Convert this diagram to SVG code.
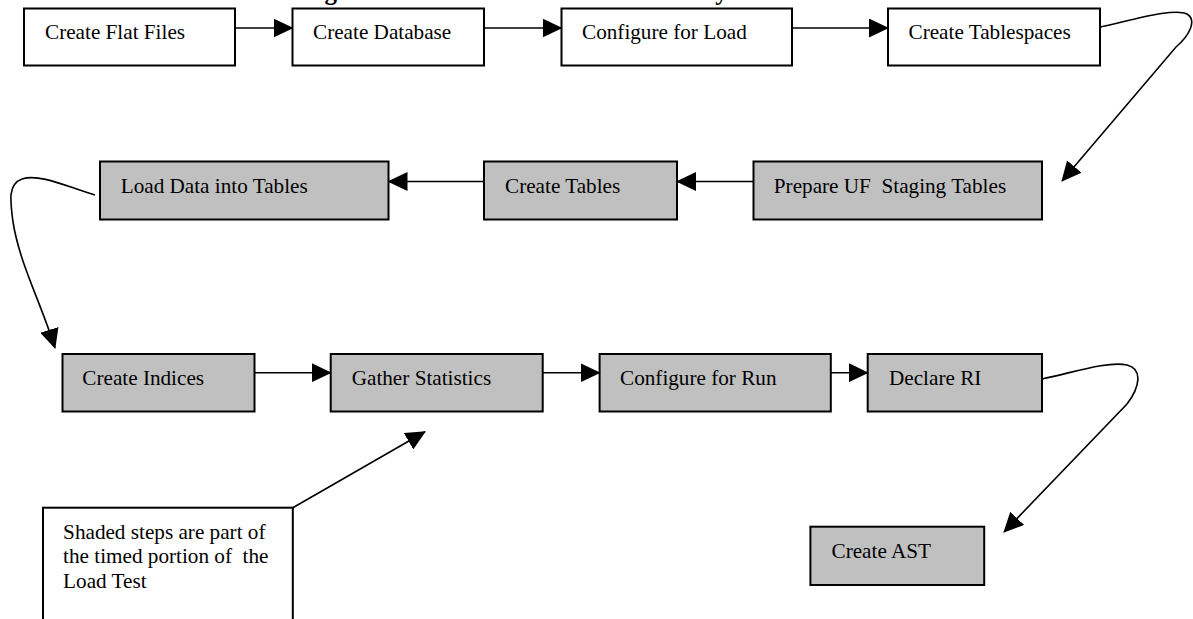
<svg xmlns="http://www.w3.org/2000/svg" width="1193" height="619" viewBox="0 0 1193 619">
<style>
.box{fill:#ffffff;stroke:#000;stroke-width:2}
.sh{fill:#c0c0c0;stroke:#000;stroke-width:2}
.lbl{font-family:"Liberation Serif","Times New Roman",serif;font-size:21.2px;fill:#000;white-space:pre}
.title{font-family:"Liberation Serif","Times New Roman",serif;font-size:25px;font-weight:bold;fill:#000}
.con{fill:none;stroke:#000;stroke-width:1.6;marker-end:url(#ah)}
</style>
<defs>
<marker id="ah" viewBox="0 0 20 19" refX="19" refY="9.5" markerWidth="20" markerHeight="19" markerUnits="userSpaceOnUse" orient="auto">
<path d="M0,0 L20,9.5 L0,19 z" fill="#000"/>
</marker>
</defs>
<rect width="1193" height="619" fill="#fff"/>
<text class="title" x="515" y="-0.5" text-anchor="middle">Figure 4.1: Load Test Process Summary</text>

<g id="n-flatfiles"><rect class="box" x="24" y="8.5" width="211" height="57"/><text class="lbl" x="45" y="39.3">Create Flat Files</text></g>
<g id="n-database"><rect class="box" x="292.5" y="8.5" width="191.5" height="57"/><text class="lbl" x="313" y="39.3">Create Database</text></g>
<g id="n-cfgload"><rect class="box" x="561.5" y="8.5" width="230.5" height="57"/><text class="lbl" x="582" y="39.3">Configure for Load</text></g>
<g id="n-tablespaces"><rect class="box" x="888" y="8.5" width="212" height="57"/><text class="lbl" x="908.5" y="39.3">Create Tablespaces</text></g>

<g id="n-loaddata"><rect class="sh" x="100" y="161.5" width="288.5" height="58"/><text class="lbl" x="120.7" y="193.3">Load Data into Tables</text></g>
<g id="n-tables"><rect class="sh" x="484" y="161.5" width="193" height="58"/><text class="lbl" x="505" y="193.3">Create Tables</text></g>
<g id="n-prepare"><rect class="sh" x="753.5" y="161.5" width="288.5" height="58"/><text class="lbl" x="773.8" y="193.3">Prepare UF  Staging Tables</text></g>

<g id="n-indices"><rect class="sh" x="62.5" y="354" width="192" height="57.5"/><text class="lbl" x="82.3" y="385">Create Indices</text></g>
<g id="n-stats"><rect class="sh" x="330.7" y="354" width="212" height="57.5"/><text class="lbl" x="351.7" y="385">Gather Statistics</text></g>
<g id="n-cfgrun"><rect class="sh" x="599.6" y="354" width="231.2" height="57.5"/><text class="lbl" x="620" y="385">Configure for Run</text></g>
<g id="n-ri"><rect class="sh" x="867.7" y="354" width="174.3" height="57.5"/><text class="lbl" x="889" y="385">Declare RI</text></g>

<g id="n-ast"><rect class="sh" x="810.4" y="526.7" width="173.8" height="58.3"/><text class="lbl" x="831.5" y="558.3">Create AST</text></g>

<g id="n-note"><rect class="box" x="43" y="507.7" width="249.8" height="130"/>
<text class="lbl" x="63.1" y="539.3">Shaded steps are part of</text>
<text class="lbl" x="63.1" y="563.3">the timed portion of  the</text>
<text class="lbl" x="63.1" y="588.3">Load Test</text></g>

<g id="connectors">
<path class="con" d="M235,28 L292.5,28"/>
<path class="con" d="M484,28 L561.5,28"/>
<path class="con" d="M792,28 L888,28"/>
<path class="con" d="M1100,27 C1140,18 1175,8 1187,14 C1197,20 1190,35 1176,47 L1062,181"/>
<path class="con" d="M753.5,181.5 L677,181.5"/>
<path class="con" d="M484,181.5 L388.5,181.5"/>
<path class="con" d="M95,195 C70,188 40,173 22,179 C8,184 10,200 13,222 C20,265 40,300 55,348"/>
<path class="con" d="M254.5,372.7 L330.7,372.7"/>
<path class="con" d="M542.7,372.7 L599.6,372.7"/>
<path class="con" d="M830.8,372.7 L867.7,372.7"/>
<path class="con" d="M1042,379 C1075,372 1108,361 1127,365 C1143,369 1140,387 1127,404 L1004,532"/>
<path class="con" d="M292.8,507.7 L425,431.7"/>
</g>
</svg>
